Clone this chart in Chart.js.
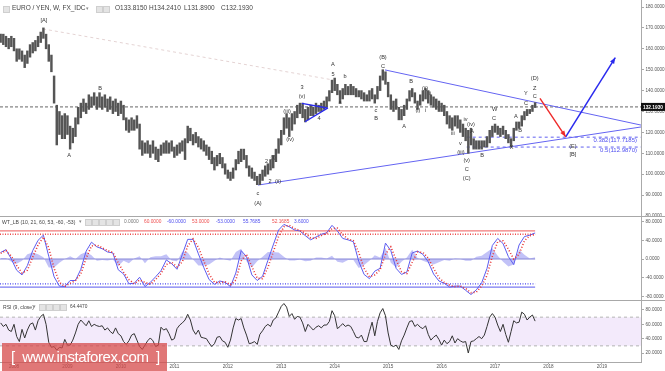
<!DOCTYPE html>
<html>
<head>
<meta charset="utf-8">
<script src="https://cdn.jsdelivr.net/npm/chart.js"></script>
<style>
  body { margin: 0; background: #fff; }
  #wrap { position: relative; width: 665px; height: 371px; overflow: hidden; font-family: "Liberation Sans", Arial, sans-serif; }
  canvas { position: absolute; left: 0; }
  .t { position: absolute; white-space: nowrap; line-height: 1; }
  .ic { position: absolute; width: 5px; height: 5px; background: #e4e4e4; border: 1px solid #cfcfcf; }
  .sep { position: absolute; left: 0; width: 665px; height: 1px; background: #a8a8a8; }
  #wm { position: absolute; left: 2px; top: 343px; width: 165px; height: 28px; background: rgba(214, 74, 74, 0.75);
        color: #fff; font-size: 15px; letter-spacing: -0.4px; line-height: 28px; padding-left: 9px; box-sizing: border-box; z-index: 5; }
</style>
</head>
<body>
<div id="wrap">
  <canvas id="price" width="665" height="216" style="top:0"></canvas>
  <canvas id="wt" width="665" height="84" style="top:216px"></canvas>
  <canvas id="rsi" width="665" height="71" style="top:300px"></canvas>
  <div class="sep" style="top:216px"></div>
  <div class="sep" style="top:300px"></div>
  <div id="wm">[&nbsp; www.instaforex.com&nbsp; ]</div>
</div>
<script>
// x range in decimal years (window edges)
const xMin = 2007.738, xMax = 2019.731;
const yearTicks = [2008, 2009, 2010, 2011, 2012, 2013, 2014, 2015, 2016, 2017, 2018, 2019];

// price bars: one bar every 0.05 year, starting 2007.75
const barStart = 2007.75, barStep = 0.05;
const priceHigh = [
  167,167,166,165,166,165,160,160,159,157,
  159,162,163,164,166,168,170,167,162,157,
  147,133,130,128,129,128,123,122,127,132,
  134,136,134,138,137,139,137,139,137,138,
  136,137,135,136,134,135,133,127,126,127,
  126,128,124,116,115,116,114,116,113,112,
  114,115,116,115,116,113,114,115,116,117,
  123,122,119,120,118,117,116,114,113,111,
  108,109,110,108,105,102,101,103,107,111,
  112,112,109,104,103,101,99,100,102,104,
  105,107,109,112,117,121,127,129,127,129,
  130,133,134,134,131,132,133,132,134,133,
  134,135,137,140,145,146,143,140,141,143,
  142,143,142,141,140,140,139,138,140,141,
  138,142,147,150,149,144,138,135,136,132,
  131,133,136,140,141,139,135,138,140,141,
  140,138,137,136,135,134,133,130,128,127,
  128,128,126,124,122,121,122,117,116,116,
  116,116,118,121,123,124,123,122,123,121,
  119,117,122,125,125,128,130,131,131,133,134.241
];
const priceLow = [
  163,162,161,160,161,159,154,155,154,151,
  153,156,158,159,161,163,165,160,154,149,
  134,114,119,117,117,119,112,115,118,124,
  127,130,129,131,132,133,131,132,131,132,
  130,131,129,130,128,129,126,121,120,121,
  121,122,112,109,110,110,108,110,107,106,
  109,110,110,110,111,108,109,110,111,107,
  115,116,114,115,113,112,111,109,107,105,
  102,104,105,103,100,98,97,98,102,105,
  106,107,103,99,98,97,95,95,97,99,
  100,102,103,106,110,114,119,122,118,121,
  124,127,129,127,125,126,128,128,129,130,
  130,131,132,135,139,140,138,134,136,138,
  138,138,138,137,137,136,135,135,135,136,
  134,136,140,145,143,137,131,130,131,126,
  126,128,131,135,137,134,131,133,135,136,
  134,133,132,131,130,130,128,124,122,121,
  123,122,120,118,116,110,114,112,112,112,
  112,113,113,115,118,120,119,118,119,117,
  115,113,116,121,122,123,126,128,129,130,131.89
];
const lastClose = 132.193;
const priceTicks = [80, 90, 100, 110, 120, 130, 140, 150, 160, 170, 180];

// wave counts: [year, price, text]
const waveLabels = [
  [2008.561, 173.8, '[A]'], [2009.029, 109.2, 'A'], [2009.609, 141.2, 'B'],
  [2012.565, 91.0, 'c'], [2012.565, 86.2, '(A)'],
  [2012.724, 106.3, '2'], [2012.846, 107.8, '(i)'], [2012.79, 96.3, '2'], [2012.939, 96.5, '(ii)'],
  [2013.108, 130.2, '(iii)'], [2013.164, 116.8, '(iv)'], [2013.388, 141.7, '3'], [2013.388, 137.4, '(v)'],
  [2013.706, 126.9, '4'], [2013.968, 152.3, 'A'], [2013.968, 147.5, '5'],
  [2014.099, 134.1, 'a'], [2014.193, 147.0, 'b'], [2014.773, 130.7, 'c'], [2014.773, 126.9, 'B'],
  [2014.904, 155.9, '(B)'], [2014.904, 151.4, 'C'],
  [2015.297, 122.7, 'A'], [2015.428, 144.3, 'B'], [2015.558, 130.4, '(i)'], [2015.699, 130.4, 'i'],
  [2015.69, 141.1, '(ii)'], [2015.784, 138.7, 'ii'], [2016.213, 119.7, 'iii'], [2016.447, 126.2, 'iv'],
  [2016.55, 123.7, '(iv)'], [2016.569, 120.5, 'A'], [2016.35, 114.6, 'v'], [2016.363, 110.3, '(iii)'],
  [2016.47, 106.8, '(v)'], [2016.47, 102.5, 'C'], [2016.47, 98.0, '(C)'], [2016.756, 109.0, 'B'],
  [2016.98, 126.6, 'C'], [2016.993, 131.2, 'W'], [2017.311, 113.0, 'X'], [2017.392, 127.5, 'A'],
  [2017.467, 120.7, 'B'], [2017.579, 133.9, 'C'], [2017.579, 138.4, 'Y'],
  [2017.742, 137.1, 'C'], [2017.742, 141.2, 'Z'], [2017.742, 145.7, '(D)'],
  [2018.458, 113.5, '(E)'], [2018.458, 109.4, '[B]']
];
const fibLevels = [117.7185, 112.987];
const fibTexts = ['0.382(117.7185)', '0.5(112.9870)'];
const fibFrom = 2016.47;

const upperLine = [[2014.941, 149.9], [2019.731, 123.5]];
const lowerLine = [[2012.565, 94.8], [2019.731, 122.6]];
const triUpper = [[2013.388, 133.9], [2013.856, 131.7]];
const triLower = [[2013.444, 125.1], [2013.874, 131.7]];
const guideLine = [[2008.543, 169.5], [2013.968, 145.1]];
const redArrow = [[2017.841, 136.3], [2018.322, 117.9]];
const blueArrow = [[2018.322, 117.9], [2019.25, 155.8]];

// WT_LB, one value every 0.1 year
const wtStart = 2007.75, wtStep = 0.1;
const wt1 = [
  14,20,0,-24,-34,-14,18,40,51,6,
  -38,-58,-59,-46,-46,-22,17,36,26,22,
  15,13,-23,-32,-53,-52,-39,-59,-50,-38,
  -25,-2,-10,-22,10,42,42,11,-18,-44,
  -54,-47,-50,-59,-30,18,5,-34,-46,-37,
  -3,30,62,74,69,62,60,50,41,47,
  53,56,72,60,44,41,37,-5,-33,-42,
  -26,-20,34,18,-20,-33,-28,13,17,10,
  -6,-32,-47,-52,-60,-58,-58,-67,-76,-66,
  -51,-20,29,44,33,5,-12,30,48,51,55.7685
];
const wt2 = [
  12,18,6,-14,-30,-24,4,30,47,24,
  -20,-50,-59,-52,-46,-32,2,28,30,24,
  18,14,-8,-28,-44,-53,-45,-50,-54,-44,
  -31,-12,-7,-17,-6,28,43,25,-4,-32,
  -50,-50,-49,-55,-45,-4,10,-16,-41,-42,
  -18,15,48,69,72,65,61,55,45,44,
  50,55,65,66,52,43,39,14,-20,-38,
  -34,-23,10,26,-2,-27,-31,-7,15,14,
  2,-20,-40,-50,-56,-59,-58,-63,-72,-71,
  -58,-35,6,37,39,21,0,10,39,50,52.1685
];
const wtHist = [
  2,2,-6,-10,-4,10,14,10,4,-18,
  -18,-8,0,6,0,10,15,8,-4,-2,
  -3,-1,-15,-4,-9,1,6,-9,4,6,
  6,10,-3,-5,16,14,-1,-14,-14,-12,
  -4,3,-1,-4,15,22,-5,-18,-5,5,
  15,15,14,5,-3,-3,-1,-5,-4,3,
  3,1,7,-6,-8,-2,-2,-19,-13,-4,
  8,3,24,-8,-18,-6,3,20,2,-4,
  -8,-12,-7,-2,-4,1,0,-4,-4,5,
  7,15,23,7,-6,-16,-12,20,9,1,3.6
];
const wtTicks = [-80, -40, 0, 40, 80];

// RSI(9), one value every 0.05 year
const rsi = [
  62,57,60,52,50,60,43,36,53,41,
  52,60,62,52,65,71,74,60,35,28,
  29,24,28,27,39,31,31,38,48,60,
  66,62,58,65,57,60,58,57,58,52,
  55,50,47,55,47,44,36,32,37,45,
  47,38,29,25,31,37,41,37,29,31,
  56,52,54,47,38,40,54,59,62,66,
  74,66,52,46,52,42,41,40,34,29,
  33,42,43,37,35,28,38,55,68,66,
  68,55,45,33,34,36,32,46,51,57,
  60,57,66,69,77,85,89,84,71,75,
  67,71,70,62,50,60,56,52,56,58,
  55,59,59,64,79,72,54,57,61,57,
  59,57,50,42,41,45,36,36,50,63,
  44,64,76,82,72,48,31,29,31,25,
  37,45,55,64,65,57,60,56,54,58,
  46,38,42,45,39,31,38,33,36,44,
  34,40,37,35,36,20,36,37,40,43,
  40,45,57,70,75,70,59,50,60,46,
  35,50,65,62,63,77,74,66,70,73,64.447
];
const rsiTicks = [20, 40, 60, 80];

// ---------- helpers ----------
Chart.defaults.font.family = '"Liberation Sans", Arial, sans-serif';
Chart.defaults.animation = false;
Chart.defaults.responsive = false;
Chart.defaults.events = [];
Chart.defaults.plugins.legend.display = false;
Chart.defaults.plugins.tooltip.enabled = false;
Chart.defaults.elements.point.radius = 0;

const pts = a => a.map(([x, y]) => ({x, y}));
const series = (arr, start, step) => arr.map((v, i) => ({x: start + i * step, y: v}));
const lastX = barStart + (priceHigh.length - 1) * barStep;

function line(data, color, width, dash, extra) {
  return Object.assign({type: 'line', data, borderColor: color, borderWidth: width, borderDash: dash || [], fill: false, pointRadius: 0}, extra || {});
}

function xAxis(show) {
  const ax = {type: 'linear', min: xMin, max: xMax, offset: false, display: show};
  if (!show) return ax;
  return Object.assign(ax, {
    afterBuildTicks: s => { s.ticks = yearTicks.map(v => ({value: v})); },
    afterFit: s => { s.height = 9; s.paddingLeft = 0; s.paddingRight = 0; },
    grid: {drawOnChartArea: false, tickLength: 2, color: '#aaa', offset: false},
    border: {color: '#aaa'},
    ticks: {font: {size: 4.6}, color: '#555', padding: 0, maxRotation: 0, autoSkip: false, callback: v => String(v)}
  });
}
function yAxis(min, max, ticks) {
  return {
    position: 'right', min, max,
    afterBuildTicks: s => { s.ticks = ticks.map(v => ({value: v})); },
    afterFit: s => { s.width = 24; s.paddingTop = 0; s.paddingBottom = 0; },
    grid: {drawOnChartArea: false, tickLength: 3, color: '#aaa'},
    border: {color: '#aaa'},
    ticks: {font: {size: 4.6}, color: '#555', padding: 1.5, autoSkip: false, callback: v => v.toFixed(4)}
  };
}

// ---------- price panel ----------
const priceDecor = {
  id: 'priceDecor',
  afterDatasetsDraw(chart) {
    const {ctx, chartArea} = chart;
    const x = chart.scales.x, y = chart.scales.y;
    ctx.save();
    // arrow heads
    chart.data.datasets.forEach((ds, k) => {
      if (!ds.arrow) return;
      const d = chart.getDatasetMeta(k).data;
      const a = d[0], b = d[d.length - 1];
      const ang = Math.atan2(b.y - a.y, b.x - a.x), L = 6.5;
      ctx.fillStyle = ds.borderColor;
      ctx.beginPath();
      ctx.moveTo(b.x, b.y);
      ctx.lineTo(b.x - L * Math.cos(ang - 0.38), b.y - L * Math.sin(ang - 0.38));
      ctx.lineTo(b.x - L * Math.cos(ang + 0.38), b.y - L * Math.sin(ang + 0.38));
      ctx.closePath();
      ctx.fill();
    });
    // wave labels
    ctx.font = '5.6px "Liberation Sans", Arial, sans-serif';
    ctx.fillStyle = '#333';
    ctx.textAlign = 'center';
    ctx.textBaseline = 'middle';
    waveLabels.forEach(([t, p, s]) => ctx.fillText(s, x.getPixelForValue(t), y.getPixelForValue(p)));
    // fib texts
    ctx.font = '6px "Liberation Sans", Arial, sans-serif';
    ctx.fillStyle = '#5050f0';
    ctx.textAlign = 'right';
    fibLevels.forEach((v, k) => ctx.fillText(fibTexts[k], chartArea.right - 4, y.getPixelForValue(v) + 3));
    ctx.restore();
  },
  afterDraw(chart) {
    const {ctx, chartArea} = chart;
    const py = chart.scales.y.getPixelForValue(lastClose);
    ctx.save();
    ctx.fillStyle = '#111';
    ctx.fillRect(chartArea.right, py - 4, 24, 8);
    ctx.fillStyle = '#fff';
    ctx.font = 'bold 4.8px "Liberation Sans", Arial, sans-serif';
    ctx.textBaseline = 'middle';
    ctx.fillText(lastClose.toFixed(4), chartArea.right + 2, py + 0.3);
    ctx.restore();
  }
};

new Chart('price', {
  type: 'bar',
  data: {
    datasets: [
      line(pts(guideLine), 'rgba(205,175,175,0.55)', 1, [3, 3], {order: 9}),
      line(pts([[xMin, lastClose], [xMax, lastClose]]), '#666', 1, [3, 2], {order: 8}),
      line(pts([[fibFrom, fibLevels[0]], [xMax, fibLevels[0]]]), '#6060f0', 1, [3, 3], {order: 7}),
      line(pts([[fibFrom, fibLevels[1]], [xMax, fibLevels[1]]]), '#6060f0', 1, [3, 3], {order: 7}),
      line(pts(upperLine), '#6464f2', 1, [], {order: 6}),
      line(pts(lowerLine), '#6464f2', 1, [], {order: 6}),
      {
        type: 'bar',
        data: priceHigh.map((h, i) => ({x: barStart + i * barStep, y: [priceLow[i], h]})),
        backgroundColor: '#555', borderWidth: 0, barThickness: 1.8, order: 5
      },
      line(pts(triUpper), '#2a2aee', 1.4, [], {order: 2}),
      line(pts(triLower), '#2a2aee', 1.4, [], {order: 2}),
      line(pts(redArrow), '#ee2a2a', 1.4, [], {order: 1, arrow: true}),
      line(pts(blueArrow), '#2a2aee', 1.5, [], {order: 1, arrow: true})
    ]
  },
  options: {
    layout: {padding: 0},
    scales: {x: xAxis(false), y: yAxis(80, 183.35, priceTicks)}
  },
  plugins: [priceDecor]
});

// ---------- WT_LB panel ----------
new Chart('wt', {
  type: 'line',
  data: {
    datasets: [
      line(series(wtHist, wtStart, wtStep), 'rgba(0,0,0,0)', 0, [], {fill: 'origin', backgroundColor: 'rgba(110,110,235,0.42)', order: 9}),
      line(pts([[xMin, 0], [lastX, 0]]), '#8686d6', 1, [], {order: 8}),
      line(pts([[xMin, 60], [lastX, 60]]), '#f27a7a', 1.3, [], {order: 7}),
      line(pts([[xMin, 53], [lastX, 53]]), '#ee4a4a', 1.3, [1, 1.5], {order: 7}),
      line(pts([[xMin, -53], [lastX, -53]]), '#4a4af0', 1.3, [1, 1.5], {order: 7}),
      line(pts([[xMin, -60], [lastX, -60]]), '#7878f2', 1.3, [], {order: 7}),
      line(series(wt1, wtStart, wtStep), '#5c5cf0', 1, [], {order: 2}),
      line(series(wt2, wtStart, wtStep), '#e83535', 1.6, [1, 2], {order: 1})
    ]
  },
  options: {
    layout: {padding: 0},
    scales: {x: xAxis(false), y: yAxis(-87.7, 92, wtTicks)}
  }
});

// ---------- RSI panel ----------
new Chart('rsi', {
  type: 'line',
  data: {
    datasets: [
      line(pts([[xMin, 70], [xMax, 70]]), '#b4b4b4', 1, [3, 3], {fill: '+1', backgroundColor: 'rgba(190,140,235,0.18)', order: 9}),
      line(pts([[xMin, 30], [xMax, 30]]), '#b4b4b4', 1, [3, 3], {order: 8}),
      line(series(rsi, barStart, barStep), '#333', 1, [], {order: 1})
    ]
  },
  options: {
    layout: {padding: 0},
    scales: {x: xAxis(true), y: yAxis(7.5, 93.9, rsiTicks)}
  }
});

// ---------- panel headers ----------
const wrap = document.getElementById('wrap');
function txt(x, yc, s, size, color) {
  const d = document.createElement('div');
  d.className = 't';
  d.textContent = s;
  d.style.left = x + 'px';
  d.style.top = (yc - size * 0.55) + 'px';
  d.style.fontSize = size + 'px';
  d.style.color = color;
  wrap.appendChild(d);
}
function icon(x, yc) {
  const d = document.createElement('div');
  d.className = 'ic';
  d.style.left = x + 'px';
  d.style.top = (yc - 3.5) + 'px';
  wrap.appendChild(d);
}
icon(3, 9);
txt(12, 9, 'EURO / YEN, W, FX_IDC', 6.5, '#444');
txt(86, 9, '▾', 5, '#888');
icon(96, 9); icon(103, 9);
txt(115, 9, 'O133.8150', 6.5, '#444');
txt(149, 9, 'H134.2410', 6.5, '#444');
txt(184, 9, 'L131.8900', 6.5, '#444');
txt(221, 9, 'C132.1930', 6.5, '#444');

txt(2, 222.5, 'WT_LB (10, 21, 60, 53, -60, -53)', 5.1, '#444');
txt(79, 222.5, '▾', 4.5, '#888');
[85, 92, 99, 106, 113].forEach(x => icon(x, 222.5));
txt(124, 222.5, '0.0000', 4.8, '#777');
txt(144, 222.5, '60.0000', 4.8, '#ef4f4f');
txt(167, 222.5, '-60.0000', 4.8, '#4f4fef');
txt(192, 222.5, '53.0000', 4.8, '#ef4f4f');
txt(216, 222.5, '-53.0000', 4.8, '#4f4fef');
txt(243, 222.5, '55.7685', 4.8, '#4f4fef');
txt(272, 222.5, '52.1685', 4.8, '#ef4f4f');
txt(294, 222.5, '3.6000', 4.8, '#4f4fef');

txt(3, 307.5, 'RSI (9, close)', 5.1, '#444');
txt(33, 307.5, '▾', 4.5, '#888');
[39, 46, 53, 60].forEach(x => icon(x, 307.5));
txt(70, 307.5, '64.4470', 4.8, '#444');
</script>
</body>
</html>
